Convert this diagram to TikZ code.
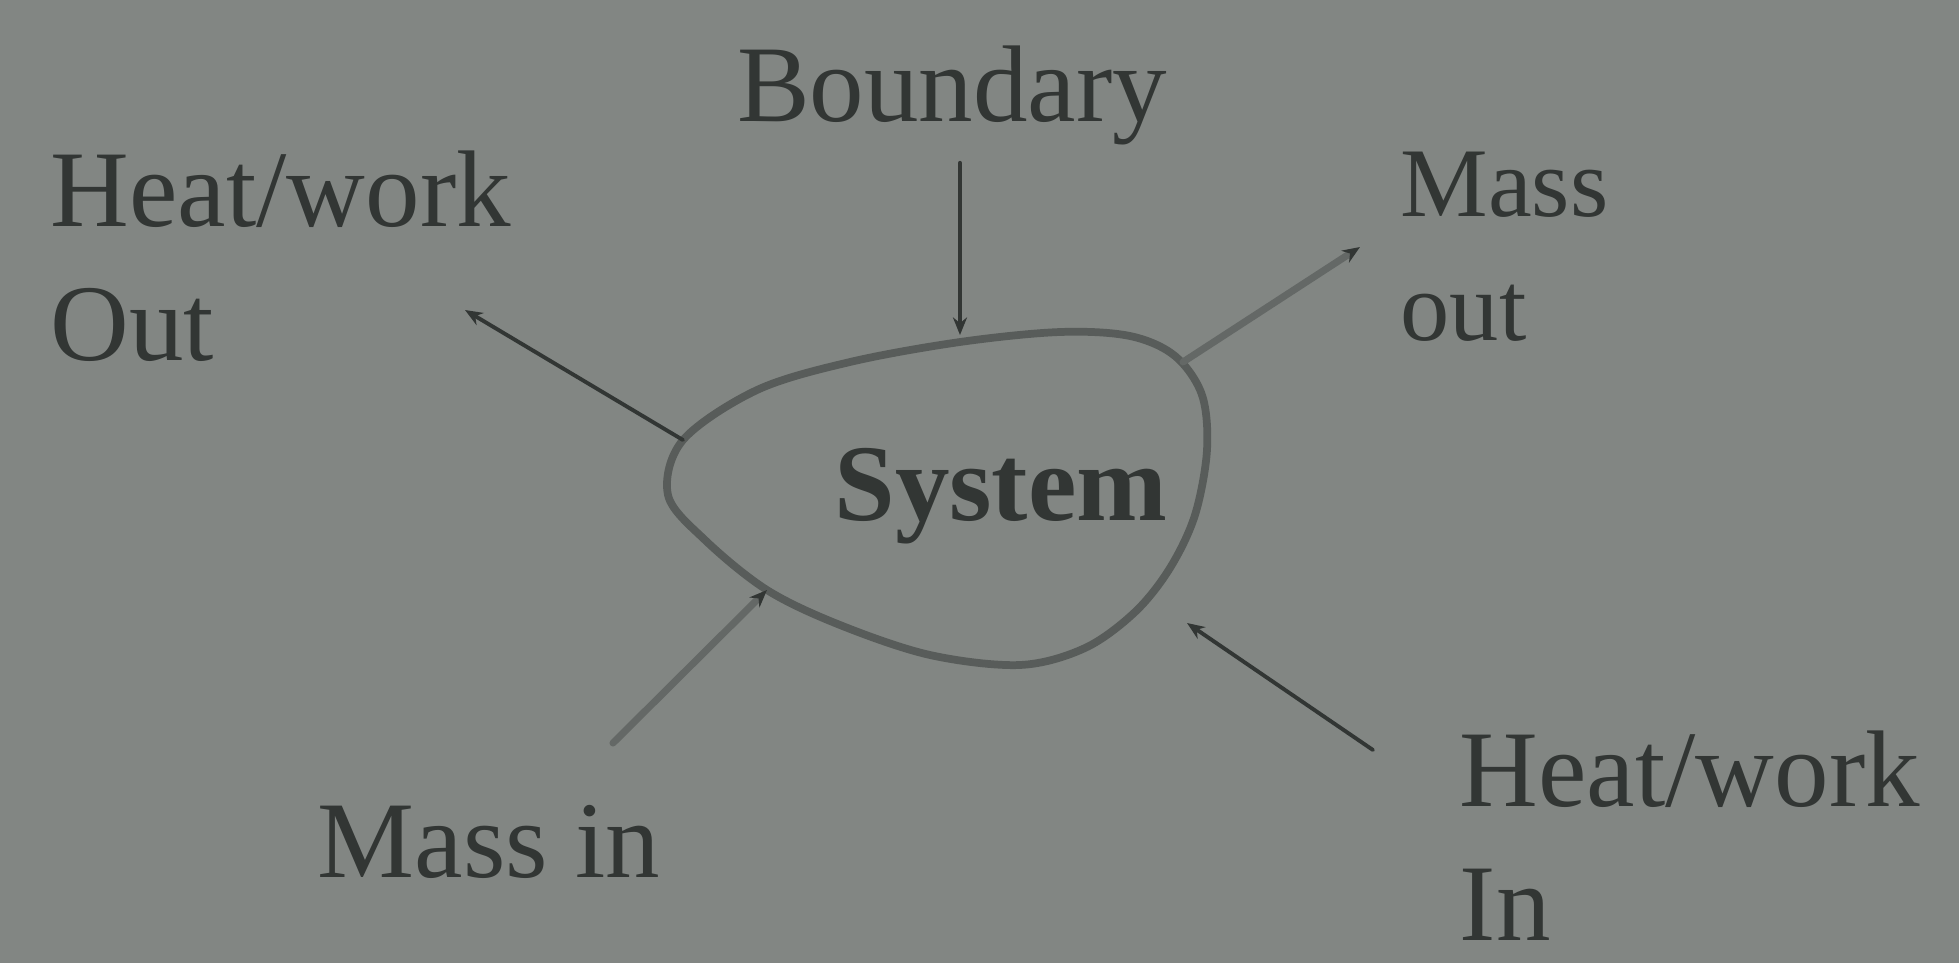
\documentclass[tikz,border=0pt]{standalone}
\usepackage{fontspec}
\setmainfont{Liberation Serif}
\usetikzlibrary{arrows.meta}
\definecolor{paper}{RGB}{130,134,131}
\definecolor{ink}{RGB}{50,54,52}
\definecolor{rim}{RGB}{88,92,90}
\definecolor{pipe}{RGB}{100,104,102}
\tikzset{
  every picture/.style={line cap=round},
  lbl/.style={font=\fontsize{31}{38}\selectfont, text=ink, inner sep=0pt, align=left},
  small/.style={lbl, font=\fontsize{28}{35}\selectfont},
  sysbox/.style={lbl, font=\fontsize{31}{38}\selectfont\bfseries},
  wall/.style={draw=rim, line width=2.2pt},
  flow/.style={-{Stealth[length=5pt,width=4pt,color=ink]}, draw=ink, line width=1.1pt},
  mass/.style={-{Stealth[length=5pt,width=4pt,color=ink]}, draw=pipe, line width=2pt},
}

\begin{document}
\begin{tikzpicture}[x=0.01cm,y=-0.01cm]
  \fill[paper] (0,0) rectangle (1959,963);
  \useasboundingbox (0,0) rectangle (1959,963);

  % the boundary of the system
  \draw[wall] plot[smooth cycle, tension=0.55] coordinates {
    (683,440) (757,390) (850,362) (960,342) (1060,332) (1130,336)
    (1175,356) (1202,395) (1207,450) (1195,515) (1170,568) (1135,612)
    (1085,648) (1020,665) (930,655) (840,625) (767,590) (705,540)
    (668,495)};
  \coordinate (cLeft) at (683,440);
  \coordinate (cTR) at (1183,362);
  \coordinate (cBL) at (767,590);
  \coordinate (cBR) at (1187,623);

  \node[sysbox, anchor=base] (sys) at (1001,520) {System};
  \node[lbl, anchor=base] (bnd) at (952,121) {Boundary};
  \node[lbl, anchor=base west] (hwout) at (50,360) {Heat/work\\Out};
  \node[small, anchor=base west] (mout) at (1400,340) {Mass\\out};
  \node[lbl, anchor=base west] (min) at (317,877) {Mass in};
  \node[lbl, anchor=base west] (hwin) at (1459,940) {Heat/work\\In};

  \coordinate (bndTip) at (960,335);
  \coordinate (hwoutTip) at (465,310);
  \coordinate (moutTip) at (1360,247);
  \coordinate (minTail) at (613,743);
  \coordinate (hwinTail) at (1373,750);

  \draw[flow, shorten <=5pt] (bnd.south -| bndTip) -- (bndTip);
  \draw[flow] (cLeft) -- (hwoutTip);
  \draw[mass] (cTR) -- (moutTip);
  \draw[mass] (minTail) -- (cBL);
  \draw[flow] (hwinTail) -- (cBR);
\end{tikzpicture}
\end{document}
